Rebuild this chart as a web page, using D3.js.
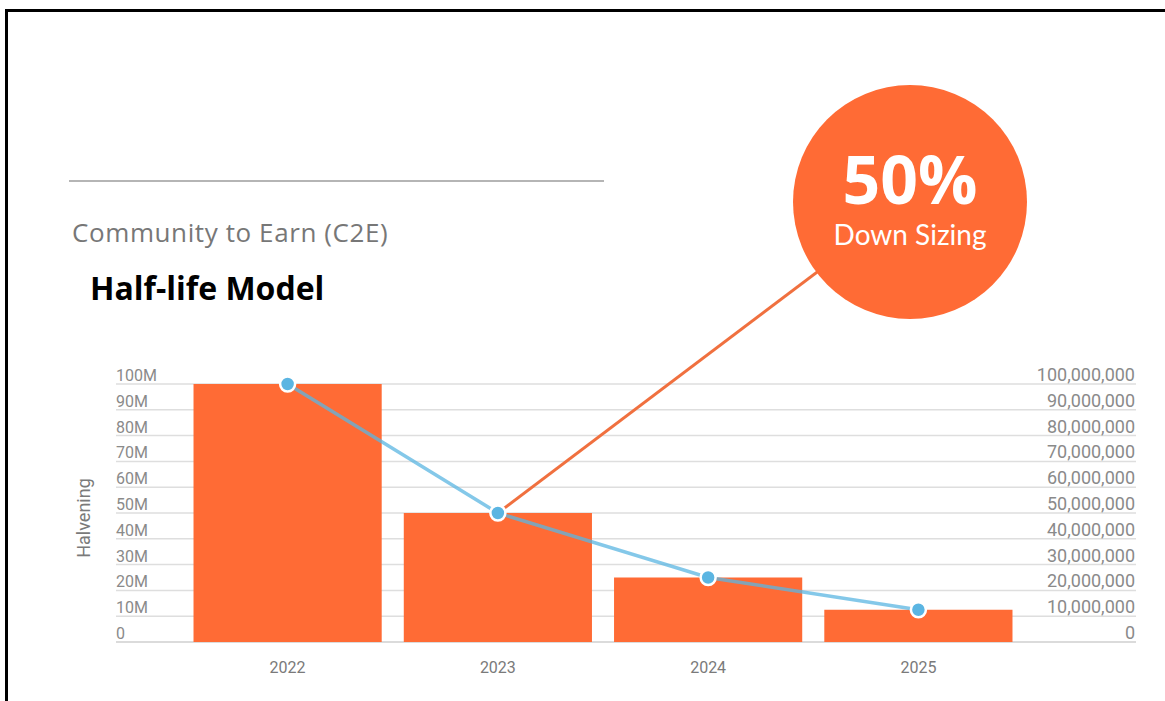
<!DOCTYPE html>
<html>
<head>
<meta charset="utf-8">
<script src="https://cdn.jsdelivr.net/npm/d3@7"></script>
<style>
  body { margin: 0; background: #fff; }
  svg { display: block; }
</style>
</head>
<body>
<div id="chart"></div>
<script>
// data
const years = ["2022", "2023", "2024", "2025"];
const supply = [100000000, 50000000, 25000000, 12500000];
const leftTicks = [0, 10e6, 20e6, 30e6, 40e6, 50e6, 60e6, 70e6, 80e6, 90e6, 100e6];
const leftTickLabels = ["0", "10M", "20M", "30M", "40M", "50M", "60M", "70M", "80M", "90M", "100M"];
const calloutValue = "50%";
const calloutText = "Down Sizing";
const calloutYear = "2023";

const W = 1165, H = 701;
const orange = "#ff6b35";
const blue = "#5bb5e2";

const svg = d3.select("#chart")
  .append("svg")
  .attr("width", W)
  .attr("height", H);

// frame (top + left edge only)
svg.append("path")
  .attr("d", `M6.5,${H} L6.5,10.5 L${W},10.5`)
  .attr("fill", "none")
  .attr("stroke", "#000")
  .attr("stroke-width", 3);

// header
svg.append("line")
  .attr("x1", 69).attr("x2", 604)
  .attr("y1", 181).attr("y2", 181)
  .attr("stroke", "#b5b5b5")
  .attr("stroke-width", 2);

svg.append("text")
  .attr("x", 72).attr("y", 242)
  .attr("font-family", "'Open Sans', sans-serif")
  .attr("font-size", 26)
  .attr("letter-spacing", 0.6)
  .attr("fill", "#777")
  .text("Community to Earn (C2E)");

svg.append("text")
  .attr("x", 90).attr("y", 300)
  .attr("font-family", "'Open Sans', sans-serif")
  .attr("font-weight", "bold")
  .attr("font-size", 32)
  .attr("fill", "#000")
  .text("Half-life Model");

// scales
const x = d3.scaleBand()
  .domain(years)
  .range([183, 1023])
  .paddingInner(0.105)
  .paddingOuter(0.05);

const y = d3.scaleLinear()
  .domain([0, 100000000])
  .range([642, 384]);

const gridX1 = 116, gridX2 = 1136;

// gridlines
svg.append("g")
  .selectAll("line")
  .data(leftTicks)
  .join("line")
  .attr("x1", gridX1).attr("x2", gridX2)
  .attr("y1", d => y(d)).attr("y2", d => y(d))
  .attr("stroke", (d, i) => i === 0 ? "#cfcfcf" : "#dedede")
  .attr("stroke-width", 1.5);

// left tick labels
svg.append("g")
  .selectAll("text")
  .data(leftTicks)
  .join("text")
  .attr("x", gridX1)
  .attr("y", d => y(d) - 3)
  .attr("font-family", "Roboto, sans-serif")
  .attr("font-size", 16)
  .attr("fill", "#8a8a8a")
  .text((d, i) => leftTickLabels[i]);

// right tick labels
const fmt = d3.format(",");
svg.append("g")
  .selectAll("text")
  .data(leftTicks)
  .join("text")
  .attr("x", gridX2 - 1)
  .attr("y", d => y(d) - 3)
  .attr("text-anchor", "end")
  .attr("font-family", "Roboto, sans-serif")
  .attr("font-size", 18)
  .attr("fill", "#8a8a8a")
  .text(d => fmt(d));

// y axis title
svg.append("text")
  .attr("transform", "translate(90,518) rotate(-90)")
  .attr("text-anchor", "middle")
  .attr("font-family", "Roboto, sans-serif")
  .attr("font-size", 18)
  .attr("fill", "#7a7a7a")
  .text("Halvening");

// bars
svg.append("g")
  .selectAll("rect")
  .data(years)
  .join("rect")
  .attr("x", d => x(d))
  .attr("width", x.bandwidth())
  .attr("y", (d, i) => y(supply[i]))
  .attr("height", (d, i) => y(0) - y(supply[i]))
  .attr("fill", orange);

// x labels
svg.append("g")
  .selectAll("text")
  .data(years)
  .join("text")
  .attr("x", d => x(d) + x.bandwidth() / 2)
  .attr("y", 673)
  .attr("text-anchor", "middle")
  .attr("font-family", "Roboto, sans-serif")
  .attr("font-size", 16)
  .attr("fill", "#7a7a7a")
  .text(d => d);

// callout
const cx = 910, cy = 202, r = 117;
const ci = years.indexOf(calloutYear);
svg.append("line")
  .attr("x1", x(calloutYear) + x.bandwidth() / 2)
  .attr("y1", y(supply[ci]))
  .attr("x2", cx).attr("y2", cy)
  .attr("stroke", "#f0703f")
  .attr("stroke-width", 3);

svg.append("circle")
  .attr("cx", cx).attr("cy", cy).attr("r", r)
  .attr("fill", orange);

svg.append("text")
  .attr("x", cx).attr("y", 204)
  .attr("text-anchor", "middle")
  .attr("font-family", "'Open Sans', sans-serif")
  .attr("font-weight", "bold")
  .attr("font-size", 66)
  .attr("fill", "#fff")
  .text(calloutValue);

svg.append("text")
  .attr("x", cx).attr("y", 245)
  .attr("text-anchor", "middle")
  .attr("font-family", "Lato, sans-serif")
  .attr("font-size", 28)
  .attr("fill", "#fff")
  .text(calloutText);

// line + points
const line = d3.line()
  .x((d, i) => x(years[i]) + x.bandwidth() / 2)
  .y(d => y(d));

svg.append("path")
  .datum(supply)
  .attr("d", line)
  .attr("fill", "none")
  .attr("stroke", blue)
  .attr("stroke-opacity", 0.75)
  .attr("stroke-width", 3.5);

svg.append("g")
  .selectAll("circle")
  .data(supply)
  .join("circle")
  .attr("cx", (d, i) => x(years[i]) + x.bandwidth() / 2)
  .attr("cy", d => y(d))
  .attr("r", 7.5)
  .attr("fill", blue)
  .attr("stroke", "#fff")
  .attr("stroke-width", 2.5);
</script>
</body>
</html>
